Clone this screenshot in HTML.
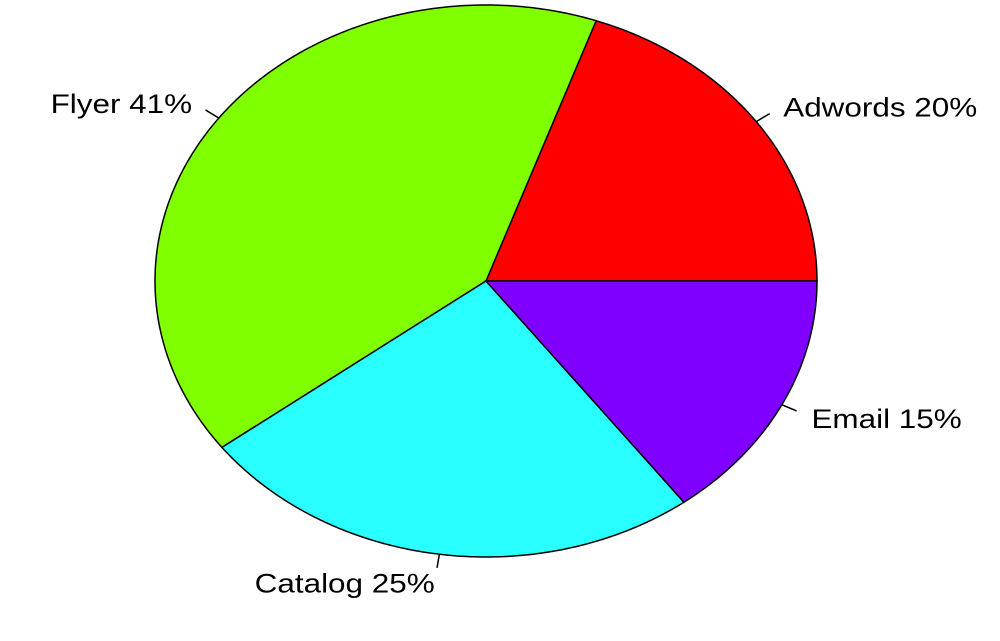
<!DOCTYPE html>
<html><head><meta charset="utf-8"><style>
html,body{margin:0;padding:0;background:#fff;}
svg text{font-family:"Liberation Sans",Arial,sans-serif;font-size:27px;fill:#000;}
</style></head><body>
<svg id="chart" width="1000" height="636" viewBox="0 0 1000 636"></svg>
<script>
const categories = ["Adwords","Flyer","Catalog","Email"];
const values = [19.6, 40.7, 24.9, 14.8];
const colors = ["#ff0000","#80ff00","#2affff","#8000ff"];
const svg = document.getElementById('chart');
const NS = 'http://www.w3.org/2000/svg';
const cx = 486, cy = 281, rx = 331, ry = 276;
const total = values.reduce((a,b)=>a+b,0);
function pt(a, r){ return [cx + rx*r*Math.cos(a), cy - ry*r*Math.sin(a)]; }
let cum = 0;
values.forEach((v,i)=>{
  const a0 = cum/total*2*Math.PI;
  cum += v;
  const a1 = cum/total*2*Math.PI;
  let d = `M${cx},${cy}`;
  const n = Math.max(2, Math.ceil((a1-a0)/0.01));
  for(let k=0;k<=n;k++){ const p = pt(a0+(a1-a0)*k/n,1); d += ` L${p[0].toFixed(2)},${p[1].toFixed(2)}`; }
  d += ' Z';
  const path = document.createElementNS(NS,'path');
  path.setAttribute('d', d);
  path.setAttribute('fill', colors[i]);
  path.setAttribute('stroke', '#000');
  path.setAttribute('stroke-width', '1.5');
  
  
  svg.appendChild(path);
  const am = (a0+a1)/2;
  const p1 = pt(am,1), p2 = pt(am,1.05), p3 = pt(am,1.1);
  const ln = document.createElementNS(NS,'line');
  ln.setAttribute('x1',p1[0]); ln.setAttribute('y1',p1[1]);
  ln.setAttribute('x2',p2[0]); ln.setAttribute('y2',p2[1]);
  ln.setAttribute('stroke','#000'); ln.setAttribute('stroke-width','1.5');
  
  
  svg.appendChild(ln);
  const t = document.createElementNS(NS,'text');
  t.setAttribute('x', 0);
  t.setAttribute('y', 0);
  t.setAttribute('transform', `translate(${p3[0]},${p3[1] + 11}) scale(1.165,1)`);
  t.setAttribute('text-anchor', Math.cos(am) >= 0 ? 'start' : 'end');
  t.textContent = categories[i] + ' ' + Math.round(v/total*100) + '%';
  
  
  svg.appendChild(t);
});
</script>
</body></html>
